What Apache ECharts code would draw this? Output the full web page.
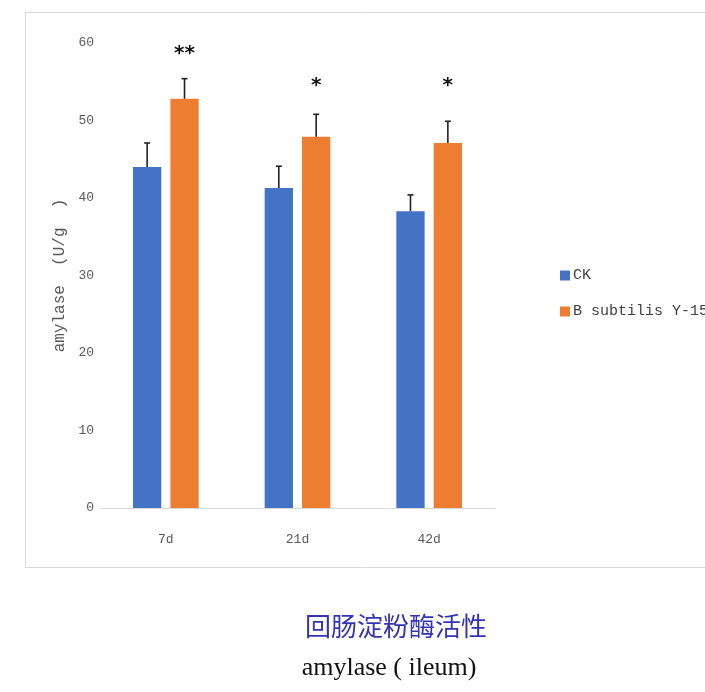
<!DOCTYPE html>
<html>
<head>
<meta charset="utf-8">
<script src="https://cdn.jsdelivr.net/npm/echarts@6/dist/echarts.min.js"></script>
<style>html,body{margin:0;padding:0;background:#fff;}#c{width:705px;height:692px;}</style>
</head>
<body>
<div id="c"></div>
<script>
var categories = ['7d', '21d', '42d'];
var seriesNames = ['CK', 'B subtilis Y-15'];
var ckValues = [44.0, 41.3, 38.3];
var ckErrors = [3.1, 2.8, 2.1];
var bsValues = [52.8, 47.9, 47.1];
var bsErrors = [2.6, 2.9, 2.8];
var sigLabels = ['**', '*', '*'];
var sigLevels = [58.6, 54.5, 54.5];
var yTicks = [0, 10, 20, 30, 40, 50, 60];

var BAR_W = 0.215, BAR_GAP = 0.32;
var chart = echarts.init(document.getElementById('c'), null, {renderer: 'canvas'});
var axisFont = '"Liberation Mono", "Noto Sans CJK SC", monospace';

function errItem(sign) {
  return function (params, api) {
    var idx = api.value(0);
    var c = api.coord([idx, api.value(1)]);
    var t = api.coord([idx, api.value(2)]);
    var band = api.size([1, 0])[0];
    var bw = band * BAR_W;
    var off = sign * (bw + bw * BAR_GAP) / 2;
    var x = c[0] + off;
    var st = {stroke: '#222', lineWidth: 1.6};
    return {
      type: 'group',
      children: [
        {type: 'line', shape: {x1: x, y1: c[1], x2: x, y2: t[1]}, style: st},
        {type: 'line', shape: {x1: x - 3, y1: t[1], x2: x + 3, y2: t[1]}, style: st}
      ]
    };
  };
}

var ckErrData = categories.map(function (c, i) { return [i, ckValues[i], ckValues[i] + ckErrors[i]]; });
var bsErrData = categories.map(function (c, i) { return [i, bsValues[i], bsValues[i] + bsErrors[i]]; });
var sigData = categories.map(function (c, i) { return [i, sigLevels[i], sigLabels[i]]; });

chart.setOption({
  animation: false,
  backgroundColor: '#fff',
  graphic: [
    {type: 'rect', shape: {x: 25.5, y: 12.5, width: 700, height: 555}, style: {fill: 'none', stroke: '#d9d9d9', lineWidth: 1}, silent: true, z: -10},
    {type: 'text', x: 396, y: 626, style: {text: '回肠淀粉酶活性', font: '26px "Noto Sans CJK SC", sans-serif', fill: '#3333b4', textAlign: 'center', textVerticalAlign: 'middle'}},
    {type: 'text', x: 389, y: 668, style: {text: 'amylase ( ileum)', font: '26px "Liberation Serif", serif', fill: '#111', textAlign: 'center', textVerticalAlign: 'middle'}}
  ],
  legend: {
    orient: 'vertical',
    left: 555,
    top: 263,
    itemGap: 21,
    itemWidth: 10,
    itemHeight: 10,
    icon: 'rect',
    data: seriesNames,
    textStyle: {fontFamily: axisFont, fontSize: 15, color: '#404040', padding: [0, 0, 0, -2]}
  },
  grid: {left: 100, right: 210, top: 43, bottom: 184},
  xAxis: {
    type: 'category',
    data: categories,
    axisLine: {lineStyle: {color: '#d9d9d9', width: 1}},
    axisTick: {show: false},
    axisLabel: {color: '#595959', fontFamily: axisFont, fontSize: 13, margin: 25}
  },
  yAxis: {
    type: 'value',
    min: yTicks[0],
    max: yTicks[yTicks.length - 1],
    interval: 10,
    name: 'amylase  (U/g  )',
    nameLocation: 'middle',
    nameGap: 31,
    nameTextStyle: {color: '#595959', fontFamily: axisFont, fontSize: 16},
    axisLine: {show: false},
    axisTick: {show: false},
    splitLine: {show: false},
    axisLabel: {color: '#595959', fontFamily: axisFont, fontSize: 13, margin: 6}
  },
  series: [
    {name: seriesNames[0], type: 'bar', data: ckValues, barWidth: (BAR_W * 100) + '%', barGap: (BAR_GAP * 100) + '%', itemStyle: {color: '#4472c4'}},
    {name: seriesNames[1], type: 'bar', data: bsValues, barWidth: (BAR_W * 100) + '%', barGap: (BAR_GAP * 100) + '%', itemStyle: {color: '#ed7d31'}},
    {type: 'custom', renderItem: errItem(-1), data: ckErrData, z: 5, encode: {x: 0, y: [1, 2]}},
    {type: 'custom', renderItem: errItem(1), data: bsErrData, z: 5, encode: {x: 0, y: [1, 2]}},
    {type: 'custom', data: sigData, z: 6, encode: {x: 0, y: 1},
      renderItem: function (params, api) {
        var idx = api.value(0);
        var p = api.coord([idx, api.value(1)]);
        var band = api.size([1, 0])[0];
        var bw = band * BAR_W;
        var off = (bw + bw * BAR_GAP) / 2;
        return {type: 'text', x: p[0] + off, y: p[1], style: {text: sigData[params.dataIndex][2], font: 'bold 20px "DejaVu Sans", sans-serif', fill: '#111', textAlign: 'center', textVerticalAlign: 'middle'}};
      }
    }
  ]
});
</script>
</body>
</html>
